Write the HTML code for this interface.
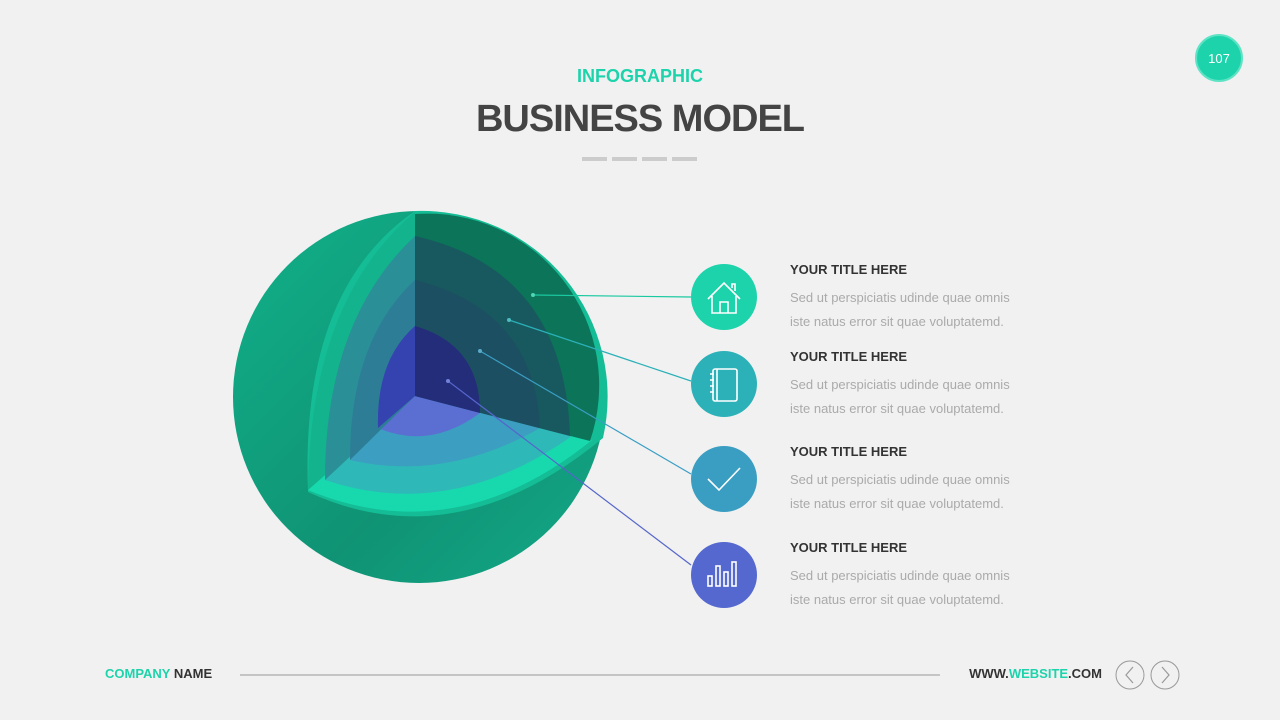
<!DOCTYPE html>
<html><head><meta charset="utf-8"><style>
body{margin:0;width:1280px;height:720px;background:#f1f1f1;font-family:"Liberation Sans",sans-serif;overflow:hidden;position:relative}
.t{position:absolute;white-space:nowrap}
.h{font-weight:bold;font-size:13px;color:#333}
.b{font-size:13px;color:#aaa}
</style></head><body>
<div class="t" style="left:0;width:1280px;text-align:center;top:66px;font-size:18px;font-weight:bold;color:#1dd3ab">INFOGRAPHIC</div>
<div class="t" style="left:0;width:1280px;text-align:center;top:98px;font-size:38px;font-weight:bold;color:#444;letter-spacing:-1px">BUSINESS MODEL</div>
<svg width="1280" height="720" style="position:absolute;left:0;top:0">
<defs>
<linearGradient id="sg" x1="0" y1="0" x2="1" y2="1"><stop offset="0" stop-color="#12b08a"/><stop offset="0.6" stop-color="#0f9374"/><stop offset="1" stop-color="#13a888"/></linearGradient>
</defs>
<g stroke="#ccc" stroke-width="4"><line x1="582" y1="159" x2="607" y2="159"/><line x1="612" y1="159" x2="637" y2="159"/><line x1="642" y1="159" x2="667" y2="159"/><line x1="672" y1="159" x2="697" y2="159"/></g>
<circle cx="1219" cy="58" r="23" fill="#1dd3ab" stroke="#5fe3c5" stroke-width="2"/>
<text x="1219" y="63" font-size="13" fill="#fff" text-anchor="middle" font-family="Liberation Sans">107</text>
<circle cx="419" cy="397" r="186" fill="url(#sg)"/>
<path d="M415,211 A186,186 0 0 1 603,438 Q455,560 308,492 Q300,290 415,211Z" fill="#14bd95"/>
<path d="M415,396 L592,440 Q455,551 308,490 Z" fill="#18d9ad"/>
<path d="M415,396 L572,436 Q450,522 325,480 Z" fill="#2fb8b8"/>
<path d="M415,396 L540,428 Q445,482 350,460 Z" fill="#3c9ec0"/>
<path d="M415,396 L480,413 Q430,450 378,428 Z" fill="#5b6fd3"/>
<path d="M415,212 Q310,300 308,490 L415,396 Z" fill="#13b48d"/>
<path d="M415,236 Q325,320 325,480 L415,396 Z" fill="#2a8f97"/>
<path d="M415,280 Q350,340 350,460 L415,396 Z" fill="#2d7d96"/>
<path d="M415,326 Q376,360 378,428 L415,396 Z" fill="#3443b0"/>
<path d="M415,214 A172,172 0 0 1 590,441 L415,396 Z" fill="#0c7459"/>
<path d="M415,236 Q565,270 570,436 L415,396 Z" fill="#17595f"/>
<path d="M415,280 Q535,310 540,428 L415,396 Z" fill="#1d4f62"/>
<path d="M415,326 Q480,345 480,413 L415,396 Z" fill="#232d7a"/>
<g stroke-width="1.2">
<line x1="533" y1="295" x2="691" y2="297" stroke="#19c9a0"/>
<line x1="509" y1="320" x2="691" y2="381" stroke="#2bb0b8"/>
<line x1="480" y1="351" x2="691" y2="474" stroke="#3a9ec4"/>
<line x1="448" y1="381" x2="691" y2="565" stroke="#5566cc"/>
</g>
<circle cx="533" cy="295" r="2" fill="#4dd5b5"/><circle cx="509" cy="320" r="2" fill="#4bbcc0"/><circle cx="480" cy="351" r="2" fill="#5aaac8"/><circle cx="448" cy="381" r="2" fill="#7282d8"/>
<circle cx="724" cy="297" r="33" fill="#1dd3ab"/>
<circle cx="724" cy="384" r="33" fill="#2db1b8"/>
<circle cx="724" cy="479" r="33" fill="#3a9ec2"/>
<circle cx="724" cy="575" r="33" fill="#5468cf"/>
<g stroke="#fff" stroke-width="1.6" fill="none">
<path d="M708,299 L724,283 L740,299 M712,296 V313 H736 V296 M720,313 V302 H728 V313 M732,288 V284 H735 V291"/>
<rect x="713" y="369" width="24" height="32" rx="2"/><line x1="717" y1="369" x2="717" y2="401"/>
<path d="M710,374h4 M710,380h4 M710,386h4 M710,392h4"/>
<path d="M708,479 L719,490 L740,468"/>
<rect x="708" y="576" width="4" height="10"/><rect x="716" y="566" width="4" height="20"/><rect x="724" y="572" width="4" height="14"/><rect x="732" y="562" width="4" height="24"/>
</g>
<line x1="240" y1="675" x2="940" y2="675" stroke="#999" stroke-width="1"/>
<circle cx="1130" cy="675" r="14" fill="none" stroke="#999"/><circle cx="1165" cy="675" r="14" fill="none" stroke="#999"/>
<path d="M1133,667 L1126,675 L1133,683 M1162,667 L1169,675 L1162,683" stroke="#999" fill="none" stroke-width="1.2"/>
</svg>
<div class="t h" style="left:790px;top:262px">YOUR TITLE HERE</div>
<div class="t b" style="left:790px;top:290px">Sed ut perspiciatis udinde quae omnis</div>
<div class="t b" style="left:790px;top:314px">iste natus error sit quae voluptatemd.</div>
<div class="t h" style="left:790px;top:349px">YOUR TITLE HERE</div>
<div class="t b" style="left:790px;top:377px">Sed ut perspiciatis udinde quae omnis</div>
<div class="t b" style="left:790px;top:401px">iste natus error sit quae voluptatemd.</div>
<div class="t h" style="left:790px;top:444px">YOUR TITLE HERE</div>
<div class="t b" style="left:790px;top:472px">Sed ut perspiciatis udinde quae omnis</div>
<div class="t b" style="left:790px;top:496px">iste natus error sit quae voluptatemd.</div>
<div class="t h" style="left:790px;top:540px">YOUR TITLE HERE</div>
<div class="t b" style="left:790px;top:568px">Sed ut perspiciatis udinde quae omnis</div>
<div class="t b" style="left:790px;top:592px">iste natus error sit quae voluptatemd.</div>
<div class="t" style="left:105px;top:666px;font-size:13px;font-weight:bold;color:#333"><span style="color:#1dd3ab">COMPANY</span> NAME</div>
<div class="t" style="right:178px;top:666px;font-size:13px;font-weight:bold;color:#333">WWW.<span style="color:#1dd3ab">WEBSITE</span>.COM</div>
</body></html>
